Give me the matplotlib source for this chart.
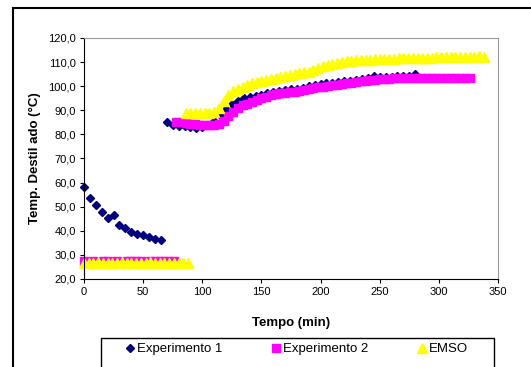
import numpy as np
import matplotlib

matplotlib.use("Agg")
import matplotlib.pyplot as plt
from matplotlib.patches import Rectangle
from matplotlib.ticker import FuncFormatter

plt.rcParams["font.family"] = ["Liberation Sans", "DejaVu Sans"]

# Experimento 1: primeiro trecho (5 em 5 min) e segundo trecho
exp1_t_a = [0, 5, 10, 15, 20, 25, 30, 35, 40, 45, 50, 55, 60, 65]
exp1_y_a = [58.0, 53.8, 50.5, 47.6, 45.5, 46.7, 42.2, 41.0, 39.3, 38.8, 38.1, 37.5, 36.7, 36.1]
exp1_t_b = list(range(70, 285, 5))
exp1_y_b = [85.0, 84.0, 83.6, 83.3, 83.0, 82.8, 83.0, 83.8, 85.6, 88.0, 90.5, 92.5, 94.0, 95.0,
            95.5, 96.0, 96.5, 97.0, 97.8, 98.2, 98.4, 98.7, 99.0, 99.4, 99.9, 100.3, 100.8,
            101.2, 101.5, 101.8, 102.1, 102.3, 102.6, 102.9, 103.2, 104.3, 103.7, 103.8, 104.0,
            104.1, 104.2, 104.3, 105.0]

# Experimento 2
exp2_t_a = list(range(0, 80, 4))
exp2_y_a = [27.5, 26.5, 27.5, 26.5, 27.5, 27.5, 26.5, 27.5, 26.5, 27.5,
            27.5, 27.5, 27.5, 26.5, 27.5, 27.5, 27.5, 27.5, 27.5, 27.5]
exp2_t_b = list(range(78, 330, 4))
exp2_y_b = [85.2, 85.0, 84.8, 84.5, 84.2, 83.8, 83.7, 83.8, 84.0, 84.3, 85.5, 87.5, 89.5,
            91.0, 92.0, 92.8, 93.5, 94.2, 95.0, 95.7, 96.3, 96.8, 97.1, 97.3, 97.5, 97.8,
            98.1, 98.5, 98.9, 99.2, 99.6, 99.8, 100.0, 100.3, 100.6, 100.9, 101.2, 101.5,
            101.8, 102.0, 102.2, 102.4, 102.6, 102.8, 103.0, 103.1, 103.2, 103.3, 103.3,
            103.3, 103.3, 103.3, 103.3, 103.3, 103.3, 103.3, 103.4, 103.4, 103.4, 103.5,
            103.5, 103.5, 103.5]

# EMSO
emso_t_a = list(range(0, 92, 4))
emso_y_a = [26.8, 26.7, 26.8, 26.9, 26.7, 26.8, 26.8, 26.7, 26.9, 26.8, 26.8, 26.7,
            26.8, 26.8, 26.9, 26.8, 26.7, 26.8, 26.8, 26.8, 26.7, 26.8, 26.8]
emso_t_b = list(range(86, 342, 4))
emso_y_b = [89.0, 89.0, 89.0, 89.0, 89.0, 89.0, 89.3, 91.0, 94.0, 96.5, 98.0, 99.0,
            99.8, 100.5, 101.2, 101.7, 102.1, 102.5, 102.9, 103.3, 103.7, 104.1, 104.6,
            105.0, 105.4, 105.7, 106.0, 106.7, 107.5, 108.2, 108.7, 109.2, 109.6, 110.0,
            110.3, 110.5, 110.7, 110.8, 110.9, 111.0, 111.1, 111.1, 111.2, 111.3, 111.4,
            111.5, 111.6, 111.6, 111.7, 111.8, 111.8, 111.9, 111.9, 112.0, 112.0, 112.1,
            112.1, 112.2, 112.2, 112.3, 112.3, 112.3, 112.4, 112.2]

fig = plt.figure(figsize=(5.31, 3.67), dpi=100)
ax = fig.add_axes([84 / 531, 1 - 279 / 367, 414 / 531, 241 / 367])

ax.plot(exp1_t_a + exp1_t_b, exp1_y_a + exp1_y_b, ls="none", marker="D", ms=4.2,
        color="#000080", label="Experimento 1", clip_on=False)
ax.plot(exp2_t_a + exp2_t_b, exp2_y_a + exp2_y_b, ls="none", marker="s", ms=5.8,
        color="#ff00ff", label="Experimento 2", clip_on=False)
ax.plot(emso_t_a + emso_t_b, emso_y_a + emso_y_b, ls="none", marker="^", ms=6.8,
        color="#ffff00", label="EMSO", clip_on=False)

ax.set_xlim(0, 350)
ax.set_ylim(20, 120)
ax.set_xticks(range(0, 351, 50))
ax.set_yticks(range(20, 121, 10))
ax.yaxis.set_major_formatter(FuncFormatter(lambda v, p: f"{v:.1f}".replace(".", ",")))
ax.tick_params(direction="out", length=3, labelsize=8, pad=3)
for s in ("top", "right"):
    ax.spines[s].set_color("#999999")
for s in ("left", "bottom"):
    ax.spines[s].set_color("black")
ax.set_xlabel("Tempo (min)", fontsize=9.5, fontweight="bold", labelpad=14)
ax.set_ylabel("Temp. Destil ado (°C)", fontsize=9.5, fontweight="bold", labelpad=5)

# moldura externa do gráfico (cortada à direita e embaixo)
fig.patches.append(Rectangle((13 / 531, -0.1), 1.2, 1 - 8 / 367 + 0.1, transform=fig.transFigure,
                             fill=False, ec="black", lw=1.5, clip_on=False))
# caixa da legenda
fig.patches.append(Rectangle((101 / 531, -0.05), 393 / 531, 0.05 + 1 - 338 / 367,
                             transform=fig.transFigure, fill=False, ec="black", lw=1.0))
fig.legend(loc="center", bbox_to_anchor=(297 / 531, 1 - 349 / 367), ncol=3, frameon=False,
           fontsize=9.5, handlelength=0.6, handletextpad=0.2, columnspacing=3.8, markerscale=1.0)

fig.savefig("out.png", dpi=100)
